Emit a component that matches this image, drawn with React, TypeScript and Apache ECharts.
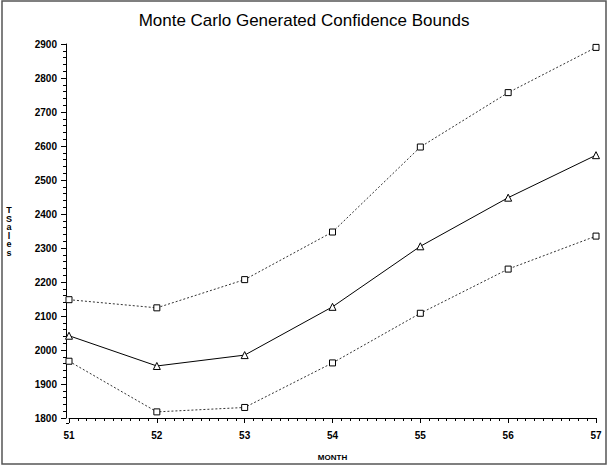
import React, { useEffect, useRef } from "react";
import * as echarts from "echarts";

const months = [51, 52, 53, 54, 55, 56, 57];
const upperBound = [2148, 2124, 2207, 2347, 2597, 2757, 2890];
const forecast = [2042, 1953, 1985, 2127, 2305, 2448, 2573];
const lowerBound = [1967, 1818, 1831, 1962, 2108, 2238, 2335];

const titleText = "Monte Carlo Generated Confidence Bounds";
const xName = "MONTH";
const yName = "TSales";

export default function App() {
  const ref = useRef<HTMLDivElement>(null);
  useEffect(() => {
    document.body.style.margin = "0";
    if (!ref.current) return;
    const chart = echarts.init(ref.current, undefined, { renderer: "svg" });
    const pair = (vals: number[]) => months.map((m, i) => [m, vals[i]]);
    const font = "Liberation Sans, Arial, sans-serif";
    chart.setOption({
      animation: false,
      backgroundColor: "#fff",
      title: {
        text: titleText,
        left: "center",
        top: 7,
        textStyle: { fontFamily: font, fontSize: 17, fontWeight: "normal", color: "#000" },
      },
      grid: { left: 69, right: 12, top: 44, bottom: 43 },
      xAxis: {
        type: "value",
        min: 51,
        max: 57,
        interval: 1,
        name: xName,
        nameLocation: "middle",
        nameGap: 35,
        nameTextStyle: { fontFamily: font, fontSize: 8, color: "#000", fontWeight: "bold" },
        axisLine: { show: true, onZero: false, lineStyle: { color: "#000", width: 1 } },
        axisTick: { show: true, length: 5, lineStyle: { color: "#000" } },
        minorTick: { show: true, splitNumber: 10, length: 3, lineStyle: { color: "#000" } },
        splitLine: { show: false },
        axisLabel: {
          fontFamily: font,
          fontSize: 10,
          fontWeight: "bold",
          color: "#000",
          margin: 12,
          formatter: (v: number) => String(v),
        },
      },
      yAxis: {
        type: "value",
        min: 1800,
        max: 2900,
        interval: 100,
        offset: 3,
        axisLine: { show: true, lineStyle: { color: "#000", width: 1 } },
        axisTick: { show: true, length: 5, lineStyle: { color: "#000" } },
        minorTick: { show: true, splitNumber: 5, length: 3, lineStyle: { color: "#000" } },
        splitLine: { show: false },
        axisLabel: {
          fontFamily: font,
          fontSize: 10,
          fontWeight: "bold",
          color: "#000",
          margin: 9,
          formatter: (v: number) => String(v),
        },
      },
      graphic: [
        {
          type: "rect",
          shape: { x: 2, y: 1, width: 604, height: 463 },
          style: { fill: "none", stroke: "#555", lineWidth: 1.5 },
          silent: true,
        },
        {
          type: "line",
          shape: { x1: 66, y1: 423.5, x2: 69, y2: 423.5 },
          style: { stroke: "#000", lineWidth: 1 },
          silent: true,
        },
        {
          type: "text",
          x: 9,
          y: 206,
          style: {
            text: yName.split("").join("\n"),
            fontFamily: font,
            fontSize: 9,
            fontWeight: "bold",
            lineHeight: 8.5,
            fill: "#000",
            align: "center",
          },
        },
      ],
      series: [
        {
          type: "line",
          data: pair(upperBound),
          symbol: "rect",
          symbolSize: 6,
          lineStyle: { color: "#333", width: 1, type: [2, 2] },
          itemStyle: { color: "#fff", borderColor: "#000", borderWidth: 1 },
        },
        {
          type: "line",
          data: pair(forecast),
          symbol: "triangle",
          symbolSize: 7,
          lineStyle: { color: "#000", width: 1, type: "solid" },
          itemStyle: { color: "#fff", borderColor: "#000", borderWidth: 1 },
        },
        {
          type: "line",
          data: pair(lowerBound),
          symbol: "rect",
          symbolSize: 6,
          lineStyle: { color: "#333", width: 1, type: [2, 2] },
          itemStyle: { color: "#fff", borderColor: "#000", borderWidth: 1 },
        },
      ],
    });
    return () => chart.dispose();
  }, []);
  return <div ref={ref} style={{ width: 608, height: 466 }} />;
}
